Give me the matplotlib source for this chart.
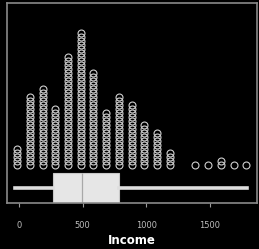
import numpy as np
import matplotlib
matplotlib.use('Agg')
import matplotlib.pyplot as plt

# dot plot: bin centres (income) and number of stacked dots per bin
bin_centres = [-15, 85, 185, 285, 385, 485, 585, 685, 785, 885, 985, 1085, 1185,
               1385, 1485, 1585, 1685, 1785]
bin_counts = [5, 18, 20, 15, 28, 34, 24, 14, 18, 16, 11, 9, 4,
              1, 1, 2, 1, 1]

# box plot summary
box_stats = {'whislo': -30, 'q1': 270, 'med': 492, 'q3': 785, 'whishi': 1790}

tick_values = [0, 500, 1000, 1500]


def main():
	fig = plt.figure(figsize=(2.59, 2.49), dpi=100, facecolor='black')
	ax = fig.add_axes([0.027, 0.185, 0.965, 0.803], facecolor='black')

	ring = '#cfcfcf'
	for xc, n in zip(bin_centres, bin_counts):
		ys = 37.5 + 4.0 * np.arange(n)
		ax.plot(np.full(n, xc), ys, 'o', ms=5.0, mfc='none', mec=ring, mew=0.8,
				linestyle='none')

	stats = dict(box_stats)
	stats['fliers'] = []
	ax.bxp([stats], positions=[15], widths=30, vert=False, showcaps=False,
		   showfliers=False, patch_artist=True,
		   boxprops=dict(facecolor='#e6e6e6', edgecolor='#c8c8c8', linewidth=0.8),
		   medianprops=dict(color='#a8a8a8', linewidth=0.9),
		   whiskerprops=dict(color='#dedede', linewidth=2.6))

	ax.set_xlim(-94, 1868)
	ax.set_ylim(0, 200)
	ax.set_yticks([])
	ax.set_xticks(tick_values)
	ax.set_xticklabels([str(v) for v in tick_values])
	ax.tick_params(axis='x', colors='#9a9a9a', labelcolor='#bdbdbd', labelsize=6,
				   length=3, width=0.8, pad=10)
	for s in ax.spines.values():
		s.set_color('#8a8a8a')
		s.set_linewidth(1.2)

	ax.set_xlabel('Income', color='white', fontsize=8.5, fontweight='bold', labelpad=3)

	fig.savefig('out.png', dpi=100, facecolor='black')


if __name__ == '__main__':
	main()
